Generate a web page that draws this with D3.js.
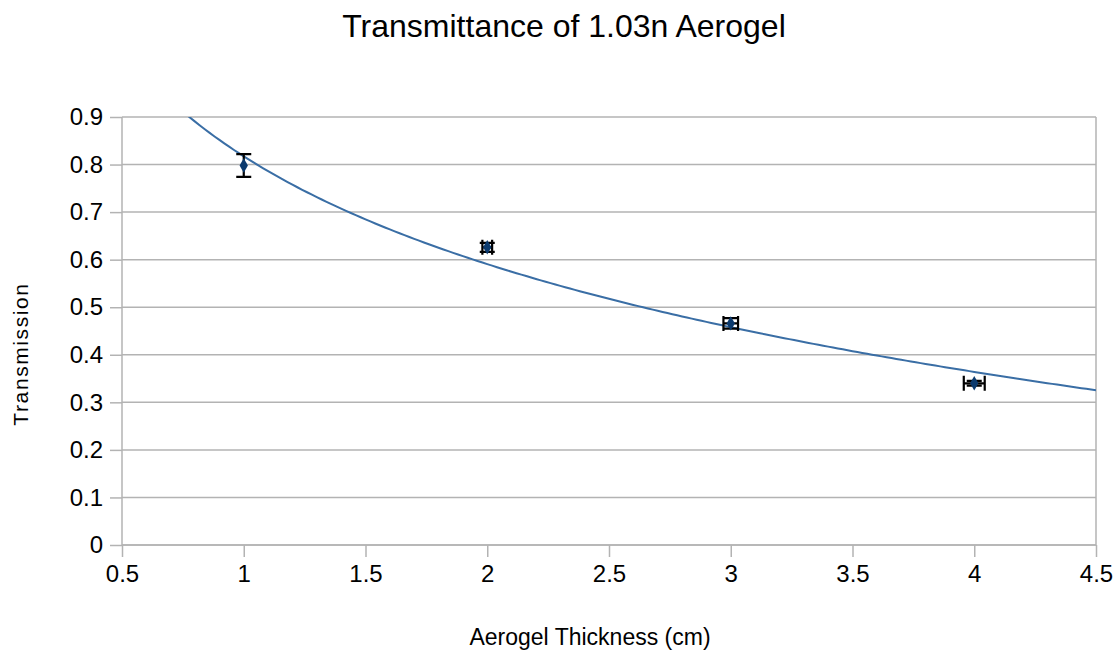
<!DOCTYPE html>
<html>
<head>
<meta charset="utf-8">
<script src="https://cdn.jsdelivr.net/npm/d3@7"></script>
<style>
  body { margin: 0; background: #fff; }
  text { font-family: "Liberation Sans", Arial, sans-serif; fill: #000; }
</style>
</head>
<body>
<div id="chart"></div>
<script>
// measured points (thickness in cm, transmission)
const thickness = [1, 2, 3, 4];
const transmission = [0.798, 0.626, 0.466, 0.340];
const transErr = [0.024, 0.0095, 0.011, 0.005];
const thickErr = [0, 0.02, 0.03, 0.043];

const xTicks = [0.5, 1, 1.5, 2, 2.5, 3, 3.5, 4, 4.5];
const yTicks = [0, 0.1, 0.2, 0.3, 0.4, 0.5, 0.6, 0.7, 0.8, 0.9];

const width = 1120, height = 654;
const margin = { top: 117, right: 24, bottom: 109, left: 122 };

const svg = d3.select("#chart").append("svg")
  .attr("width", width)
  .attr("height", height);

const x = d3.scaleLinear().domain([0.5, 4.5]).range([margin.left, width - margin.right]);
const y = d3.scaleLinear().domain([0, 0.9]).range([height - margin.bottom, margin.top]);

// 格線
svg.append("g")
  .selectAll("line")
  .data(yTicks)
  .join("line")
  .attr("x1", margin.left)
  .attr("x2", width - margin.right)
  .attr("y1", (d) => y(d))
  .attr("y2", (d) => y(d))
  .attr("stroke", "#b3b3b3")
  .attr("stroke-width", 1.5);

// right border
svg.append("line")
  .attr("x1", x(4.5)).attr("x2", x(4.5))
  .attr("y1", y(0.9)).attr("y2", y(0))
  .attr("stroke", "#b3b3b3")
  .attr("stroke-width", 1.5);

const yAxis = svg.append("g")
  .attr("transform", `translate(${margin.left},0)`)
  .call(d3.axisLeft(y).tickValues(yTicks).tickSize(12).tickPadding(7)
    .tickFormat((d) => d3.format("~g")(d)));
yAxis.selectAll("line, path").attr("stroke", "#b3b3b3").attr("stroke-width", 1.5);
yAxis.select(".domain").attr("d", `M0,${y(0.9)}V${y(0)}`);
yAxis.selectAll("text").style("font-size", "24px").attr("font-family", null);

const xAxis = svg.append("g")
  .attr("transform", `translate(0,${y(0)})`)
  .call(d3.axisBottom(x).tickValues(xTicks).tickSize(12).tickPadding(8)
    .tickFormat((d) => d3.format("~g")(d)));
xAxis.selectAll("line, path").attr("stroke", "#b3b3b3").attr("stroke-width", 1.5);
xAxis.select(".domain").attr("d", `M${x(0.5)},0H${x(4.5)}`);
xAxis.selectAll("text").style("font-size", "24px").attr("font-family", null);

// logarithmic trend line, least squares fit on the points
const lx = thickness.map(Math.log);
const mx = d3.mean(lx), my = d3.mean(transmission);
const b = d3.sum(lx, (v, i) => (v - mx) * (transmission[i] - my)) / d3.sum(lx, (v) => (v - mx) ** 2);
const a = my - b * mx;
const fitX = d3.range(0.5, 4.5001, 0.02);

svg.append("clipPath").attr("id", "plot-clip")
  .append("rect")
  .attr("x", margin.left).attr("y", margin.top)
  .attr("width", x(4.5) - x(0.5)).attr("height", y(0) - y(0.9));

svg.append("path")
  .datum(fitX)
  .attr("clip-path", "url(#plot-clip)")
  .attr("fill", "none")
  .attr("stroke", "#3a6ea5")
  .attr("stroke-width", 2)
  .attr("d", d3.line().x((d) => x(d)).y((d) => y(a + b * Math.log(d))));

// error bars
const cap = 7.5;
const pts = thickness.map((t, i) => ({ t, v: transmission[i], ey: transErr[i], ex: thickErr[i] }));
const eb = svg.append("g").attr("stroke", "#000").attr("stroke-width", 2.2).attr("fill", "none");
pts.forEach((p) => {
  if (p.ey > 0) {
    eb.append("path").attr("d",
      `M${x(p.t)},${y(p.v - p.ey)}V${y(p.v + p.ey)}` +
      `M${x(p.t) - cap},${y(p.v + p.ey)}h${cap * 2}` +
      `M${x(p.t) - cap},${y(p.v - p.ey)}h${cap * 2}`);
  }
  if (p.ex > 0) {
    eb.append("path").attr("d",
      `M${x(p.t - p.ex)},${y(p.v)}H${x(p.t + p.ex)}` +
      `M${x(p.t - p.ex)},${y(p.v) - cap}v${cap * 2}` +
      `M${x(p.t + p.ex)},${y(p.v) - cap}v${cap * 2}`);
  }
});

// markers
svg.append("g")
  .selectAll("path")
  .data(pts)
  .join("path")
  .attr("transform", (d) => `translate(${x(d.t)},${y(d.v)})`)
  .attr("d", d3.symbol(d3.symbolDiamond, 60))
  .attr("fill", "#0b3a6e");

// 標題
svg.append("text")
  .attr("x", 564)
  .attr("y", 37)
  .attr("text-anchor", "middle")
  .style("font-size", "32px")
  .text("Transmittance of 1.03n Aerogel");

svg.append("text")
  .attr("x", 590)
  .attr("y", 645)
  .attr("text-anchor", "middle")
  .style("font-size", "23px")
  .text("Aerogel Thickness (cm)");

svg.append("text")
  .attr("transform", "translate(28,354) rotate(-90)")
  .attr("text-anchor", "middle")
  .style("font-size", "21px")
  .style("letter-spacing", "1.6px")
  .text("Transmission");
</script>
</body>
</html>
